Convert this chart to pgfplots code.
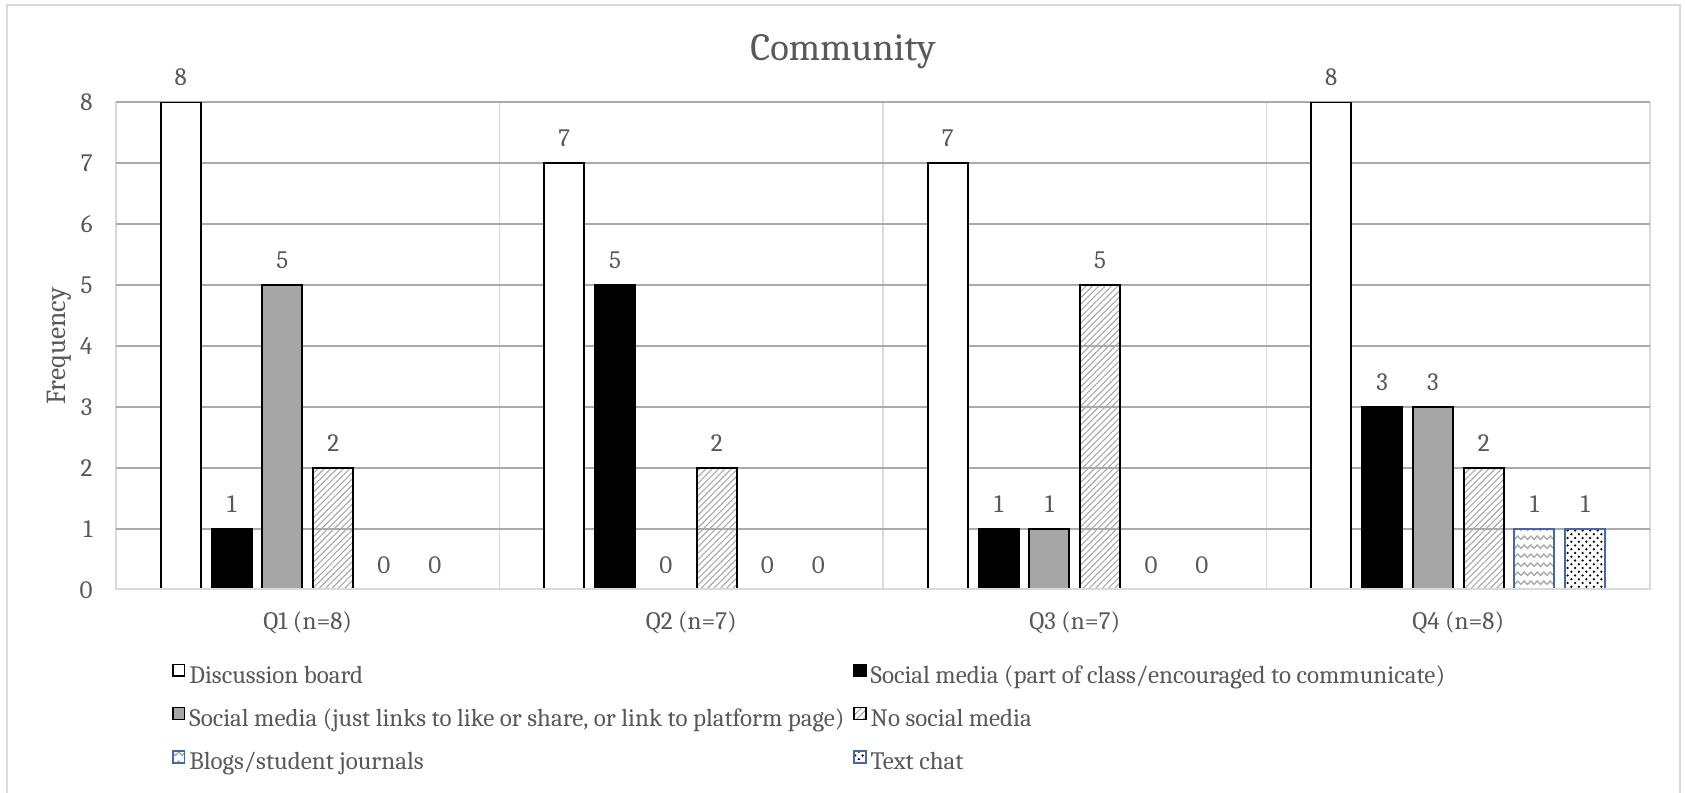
\documentclass[border=0pt]{standalone}
\usepackage{fontspec}
\setmainfont{Caladea}
\usepackage{pgfplots}
\pgfplotsset{compat=1.18}
\usetikzlibrary{patterns,patterns.meta}
\definecolor{textgray}{RGB}{89,89,89}
\definecolor{gridgray}{RGB}{170,170,170}
\definecolor{gridlight}{RGB}{217,217,217}
\definecolor{barblue}{RGB}{70,105,165}
\definecolor{bargray}{RGB}{166,166,166}
\pgfdeclarepatternformonly{zigzag}{\pgfqpoint{-1pt}{-1pt}}{\pgfqpoint{6.2pt}{4.6pt}}{\pgfqpoint{5.2pt}{3.6pt}}{%
  \pgfsetlinewidth{0.55pt}
  \pgfpathmoveto{\pgfqpoint{0pt}{0.6pt}}
  \pgfpathlineto{\pgfqpoint{1.3pt}{2.0pt}}
  \pgfpathlineto{\pgfqpoint{2.6pt}{0.6pt}}
  \pgfpathlineto{\pgfqpoint{3.9pt}{2.0pt}}
  \pgfpathlineto{\pgfqpoint{5.2pt}{0.6pt}}
  \pgfusepath{stroke}}
\pgfplotsset{/pgf/number format/assume math mode=true}
\pgfplotstableread{
x v
0 8
1 7
2 7
3 8
}\tDisc
\pgfplotstableread{
x v
0 1
1 5
2 1
3 3
}\tSocPart
\pgfplotstableread{
x v
0 5
1 0
2 1
3 3
}\tSocLink
\pgfplotstableread{
x v
0 2
1 2
2 5
3 2
}\tNoSoc
\pgfplotstableread{
x v
0 0
1 0
2 0
3 1
}\tBlogs
\pgfplotstableread{
x v
0 0
1 0
2 0
3 1
}\tChat
\begin{document}
\begin{tikzpicture}
\path[use as bounding box] (0pt,0pt) rectangle (674pt,-317.2pt);
\draw[gridlight, line width=0.8pt] (2.8pt,-2pt) rectangle (672pt,-340pt);
\node[font=\fontsize{15.4}{18}\selectfont, text=textgray] at (337.2pt,-20.8pt) {Community};
\begin{axis}[
  at={(46.4pt,-236pt)}, anchor=south west,
  scale only axis, width=613.6pt, height=195.2pt,
  ybar=4.32pt, bar width=16pt,
  xmin=-0.5, xmax=3.5, ymin=0, ymax=8,
  xtick={0,1,2,3},
  xticklabels={Q1 (n=8),Q2 (n=7),Q3 (n=7),Q4 (n=8)},
  minor xtick={-0.5,0.5,1.5,2.5,3.5},
  ytick={1,...,8},
  extra y ticks={0},
  extra y tick style={major grid style={draw=none}},
  major tick length=0pt, minor tick length=0pt,
  ymajorgrids, xminorgrids,
  major grid style={draw=gridgray, line width=0.6pt},
  minor grid style={draw=gridlight, line width=0.6pt},
  axis line style={draw=none},
  tick label style={font=\fontsize{10}{12}\selectfont, text=textgray},
  yticklabel style={anchor=east, inner sep=0pt, xshift=-9.2pt},
  xticklabel style={anchor=base, inner sep=0pt, yshift=-15.8pt},
  ylabel={Frequency},
  ylabel style={at={(axis description cs:-0.0372,0.5)}, anchor=center, font=\fontsize{11}{13}\selectfont, text=textgray},
  nodes near coords,
  nodes near coords style={anchor=base, inner sep=0pt, yshift=6.5pt, font=\fontsize{10}{12}\selectfont, text=textgray},
  legend columns=2,
  legend cell align=left,
  legend style={at={(axis description cs:0.0363,-0.1496)}, anchor=north west, draw=none, fill=none, inner sep=0pt,
    font=\fontsize{10}{12}\selectfont, text=textgray,
    nodes={inner sep=0pt, text height=7.2pt, text depth=2.2pt},
    row sep=7.35pt,
    /tikz/every odd column/.append style={column sep=1.6pt},
    /tikz/every even column/.append style={column sep=3.6pt}},
  legend image code/.code={\draw[#1, line width=0.6pt] (0.3pt,0.3pt) rectangle (5pt,5pt);},
]
\addplot[draw=black, line width=0.8pt, fill=white] table[x=x,y=v] {\tDisc};
\addplot[draw=black, line width=0.8pt, fill=black] table[x=x,y=v] {\tSocPart};
\addplot[draw=black, line width=0.8pt, fill=bargray] table[x=x,y=v] {\tSocLink};
\addplot[draw=black, line width=0.8pt, pattern={Lines[angle=45, distance=1.8pt, line width=0.45pt]}, pattern color=gridgray] table[x=x,y=v] {\tNoSoc};
\addplot[draw=barblue, line width=0.8pt, pattern=zigzag, pattern color=gridgray] table[x=x,y=v] {\tBlogs};
\addplot[draw=barblue, line width=0.8pt, pattern=crosshatch dots, pattern color=black] table[x=x,y=v] {\tChat};
\draw[gridlight, line width=1.2pt] (rel axis cs:0,0) -- (rel axis cs:1,0);
\legend{Discussion board, Social media (part of class/encouraged to communicate), {Social media (just links to like or share, or link to platform page)}, No social media, Blogs/student journals, Text chat}
\end{axis}
\end{tikzpicture}
\end{document}
